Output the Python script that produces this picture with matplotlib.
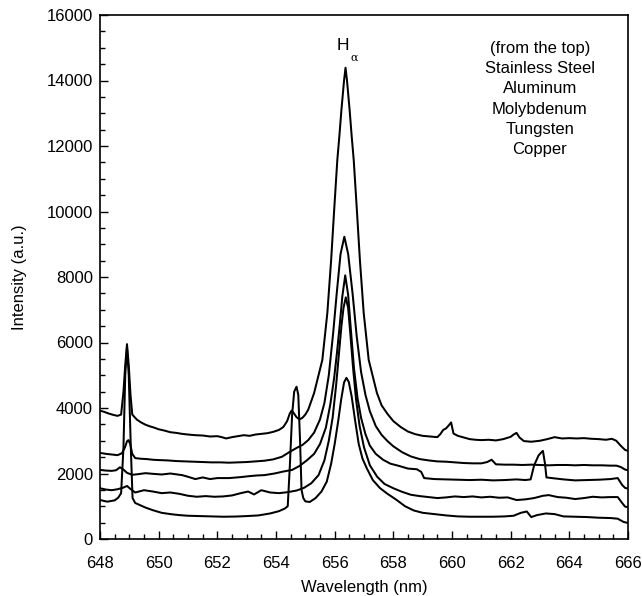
import matplotlib
matplotlib.use("Agg")
import matplotlib.pyplot as plt
from matplotlib.ticker import MultipleLocator

plt.rcParams['font.family'] = ['Liberation Sans', 'DejaVu Sans']

# ---------------- data ----------------
x_ss = [648.00, 648.15, 648.30, 648.45, 648.60, 648.72, 648.80, 648.86, 648.92, 648.98,
        649.04, 649.10, 649.25, 649.40, 649.55, 649.70, 649.85, 650.00, 650.20, 650.40,
        650.60, 650.80, 651.00, 651.25, 651.50, 651.75, 652.00, 652.15, 652.30, 652.50,
        652.70, 652.90, 653.10, 653.30, 653.50, 653.70, 653.90, 654.10, 654.25, 654.38,
        654.47, 654.53, 654.60, 654.70, 654.80, 654.90, 655.00, 655.10, 655.30, 655.58,
        655.75, 655.88, 655.98, 656.09, 656.16, 656.23, 656.32, 656.37, 656.42, 656.51,
        656.58, 656.65, 656.76, 656.86, 656.99, 657.16, 657.44, 657.60, 657.80,
        658.00, 658.25, 658.50, 658.75, 659.00, 659.25, 659.50, 659.60, 659.70, 659.80,
        659.90, 659.97, 660.05, 660.20, 660.40, 660.60, 660.80, 661.00, 661.25, 661.50,
        661.75, 662.00, 662.10, 662.20, 662.30, 662.45, 662.70, 663.00, 663.25, 663.50,
        663.75, 664.00, 664.25, 664.50, 664.75, 665.00, 665.25, 665.45, 665.60, 665.75,
        665.90, 666.00]
y_ss = [3920, 3880, 3830, 3790, 3760, 3800, 4500, 5300, 5950, 5300,
        4400, 3800, 3650, 3560, 3490, 3440, 3400, 3350, 3310, 3260,
        3240, 3210, 3190, 3170, 3160, 3130, 3140, 3110, 3070, 3110,
        3140, 3170, 3150, 3190, 3210, 3230, 3270, 3330, 3420, 3600,
        3830, 3920, 3850, 3720, 3650, 3700, 3800, 3950, 4460, 5470,
        6900, 8520, 10000, 11570, 12300, 13100, 14000, 14390, 14000, 13100,
        12300, 11570, 10000, 8520, 6900, 5470, 4460, 4080, 3820,
        3600, 3420, 3280, 3200, 3150, 3130, 3110, 3200, 3330, 3380,
        3480, 3560, 3220, 3150, 3100, 3050, 3030, 3020, 3030, 3010,
        3050, 3120, 3190, 3240, 3100, 2990, 2970, 3000, 3050, 3110,
        3070, 3080, 3070, 3080, 3060, 3050, 3030, 3060, 3000, 2850,
        2720, 2690]

x_al = [648.00, 648.20, 648.40, 648.60, 648.75, 648.85, 648.92, 648.97, 649.03, 649.10,
        649.20, 649.40, 649.60, 649.80, 650.00, 650.30, 650.60, 650.90, 651.20, 651.50,
        651.80, 652.10, 652.40, 652.70, 653.00, 653.30, 653.60, 653.90, 654.20, 654.45,
        654.70, 654.90, 655.10, 655.30, 655.50, 655.65, 655.80, 655.95, 656.07, 656.20,
        656.33, 656.46, 656.61, 656.75, 656.90, 657.05, 657.20, 657.40, 657.60, 657.80,
        658.00, 658.30, 658.60, 658.90, 659.20, 659.50, 659.80,
        660.10, 660.40, 660.70, 661.00, 661.20, 661.35, 661.50, 661.80, 662.10, 662.40,
        662.70, 663.00, 663.30, 663.60, 663.90, 664.20, 664.50, 664.80, 665.10, 665.40,
        665.60, 665.75, 665.90, 666.00]
y_al = [2630, 2600, 2580, 2560, 2620, 2800, 2980, 3020, 2900, 2600,
        2470, 2450, 2440, 2420, 2410, 2400, 2380, 2370, 2360, 2350,
        2340, 2340, 2330, 2340, 2350, 2370, 2390, 2430, 2510, 2650,
        2780, 2870, 3020, 3250, 3650, 4150, 5000, 6300, 7500, 8700,
        9230, 8700, 7500, 6200, 5100, 4400, 3900, 3450, 3180, 2990,
        2830, 2650, 2520, 2440, 2400, 2370, 2360,
        2340, 2320, 2310, 2310, 2350, 2420, 2280, 2270, 2270, 2260,
        2270, 2260, 2250, 2260, 2260, 2250, 2260, 2250, 2250, 2240,
        2240, 2200, 2120, 2100]

x_mo = [648.00, 648.20, 648.40, 648.55, 648.68, 648.80, 648.92, 649.10, 649.30, 649.55,
        649.80, 650.10, 650.40, 650.80, 651.00, 651.25, 651.50, 651.75, 652.00, 652.40,
        652.80, 653.10, 653.35, 653.60, 653.95, 654.25, 654.55, 654.80, 655.05, 655.30,
        655.50, 655.70, 655.85, 655.98, 656.08, 656.18, 656.26, 656.36, 656.46, 656.56,
        656.66, 656.78, 656.90, 657.05, 657.20, 657.40, 657.65, 657.90, 658.20, 658.50,
        658.80, 658.95, 659.05, 659.40, 659.80, 660.20, 660.60, 661.00, 661.40, 661.80,
        662.20, 662.50, 662.68, 662.80, 662.95, 663.05, 663.10, 663.17, 663.22, 663.50,
        663.80, 664.20, 664.60, 665.00, 665.40, 665.65, 665.80, 665.90, 666.00]
y_mo = [2110, 2090, 2080, 2100, 2190, 2120, 2020, 1960, 1980, 2010,
        1990, 1970, 2000, 1950, 1900, 1830, 1880, 1830, 1860, 1860,
        1890, 1920, 1940, 1950, 2000, 2060, 2110, 2230, 2400, 2600,
        2900, 3400, 4100, 4900, 5700, 6600, 7400, 8050, 7450, 6300,
        5200, 4300, 3700, 3200, 2850, 2600, 2420, 2300, 2230, 2150,
        2130, 2050, 1860, 1830, 1820, 1810, 1800, 1810, 1790, 1800,
        1820, 1800, 1820, 2250, 2550, 2650, 2690, 2300, 1880, 1850,
        1820, 1790, 1800, 1810, 1830, 1860, 1650, 1560, 1540]

x_w = [648.00, 648.20, 648.40, 648.60, 648.80, 648.92, 649.05, 649.20, 649.50, 649.80,
       650.10, 650.40, 650.70, 651.00, 651.30, 651.60, 651.90, 652.20, 652.50, 652.80,
       653.05, 653.25, 653.50, 653.80, 654.10, 654.40, 654.70, 654.95, 655.20, 655.45,
       655.65, 655.80, 655.93, 656.05, 656.15, 656.23, 656.30, 656.38, 656.46, 656.54,
       656.63, 656.73, 656.85, 657.00, 657.20, 657.45, 657.70, 658.00, 658.30, 658.60,
       658.90, 659.20, 659.50, 659.80, 660.10, 660.40, 660.70, 661.00, 661.30, 661.60,
       661.90, 662.20, 662.50, 662.80, 663.10, 663.30, 663.60, 663.90, 664.20, 664.50,
       664.80, 665.10, 665.40, 665.65, 665.80, 665.90, 666.00]
y_w = [1550, 1510, 1490, 1520, 1570, 1620, 1520, 1420, 1490, 1450,
       1400, 1420, 1380, 1320, 1290, 1310, 1290, 1300, 1330, 1400,
       1450, 1360, 1490, 1420, 1400, 1430, 1480, 1560, 1700, 1950,
       2400, 3000, 3700, 4700, 5700, 6500, 7050, 7380, 7050, 6200,
       5200, 4250, 3450, 2800, 2250, 1900, 1680, 1550, 1440, 1350,
       1310, 1280, 1250, 1270, 1300, 1280, 1300, 1270, 1290, 1260,
       1270, 1190, 1210, 1250, 1320, 1340, 1280, 1260, 1220, 1250,
       1290, 1270, 1280, 1280, 1100, 990, 970]

x_cu = [648.00, 648.25, 648.50, 648.62, 648.72, 648.80, 648.86, 648.92, 648.98, 649.05,
        649.11, 649.20, 649.35, 649.55, 649.80, 650.10, 650.40, 650.70, 651.00, 651.40,
        651.80, 652.20, 652.60, 653.00, 653.40, 653.80, 654.10, 654.30, 654.40, 654.47,
        654.55, 654.62, 654.70, 654.76, 654.82, 654.87, 654.93, 655.00, 655.15, 655.35,
        655.55, 655.73, 655.88, 656.00, 656.12, 656.22, 656.32, 656.40, 656.48, 656.58,
        656.70, 656.82, 656.95, 657.10, 657.30, 657.55, 657.80, 658.10, 658.40, 658.70,
        659.00, 659.40, 659.80, 660.20, 660.60, 661.00, 661.40, 661.80, 662.10, 662.35,
        662.55, 662.70, 662.90, 663.20, 663.50, 663.80, 664.20, 664.60, 665.00, 665.40,
        665.65, 665.85, 666.00]
y_cu = [1190, 1140, 1180, 1260, 1400, 2800, 5000, 5850, 5000, 2800,
        1250, 1100, 1040, 960, 880, 800, 760, 730, 710, 700,
        690, 680, 685, 700, 720, 780, 850, 930, 1000, 2200,
        3800, 4500, 4650, 4400, 3000, 1500, 1250, 1150, 1130, 1250,
        1450, 1750, 2300, 2900, 3600, 4250, 4780, 4920, 4800, 4350,
        3600, 2900, 2450, 2150, 1800, 1550, 1380, 1200, 1000, 870,
        800, 760, 720, 690, 680, 680, 680, 690, 710, 800,
        840, 670, 730, 780, 760, 690, 680, 670, 650, 640,
        620, 520, 490]

legend_lines = ["(from the top)", "Stainless Steel", "Aluminum", "Molybdenum",
                "Tungsten", "Copper"]

# ---------------- figure ----------------
fig = plt.figure(figsize=(6.42, 5.96), dpi=100)
ax = fig.add_axes([100 / 642, 57 / 596, 528 / 642, 524 / 596])

for xs, ys in [(x_ss, y_ss), (x_al, y_al), (x_mo, y_mo), (x_w, y_w), (x_cu, y_cu)]:
    ax.plot(xs, ys, color='black', lw=1.45, solid_joinstyle='round')

ax.set_xlim(648, 666)
ax.set_ylim(0, 16000)
ax.xaxis.set_major_locator(MultipleLocator(2))
ax.xaxis.set_minor_locator(MultipleLocator(0.5))
ax.yaxis.set_major_locator(MultipleLocator(2000))
ax.yaxis.set_minor_locator(MultipleLocator(500))
ax.tick_params(which='both', direction='in', top=False, right=False,
               labelsize=12, width=1.0, colors='black')
ax.tick_params(which='major', length=6)
ax.tick_params(which='minor', length=3.5)
ax.tick_params(axis='x', which='major', pad=12)
ax.tick_params(axis='y', which='major', pad=5)
for s in ax.spines.values():
    s.set_linewidth(1.2)

ax.set_xlabel("Wavelength (nm)", fontsize=12, labelpad=7)
ax.set_ylabel("Intensity (a.u.)", fontsize=12, labelpad=14)

# H-alpha label
ax.text(656.29, 15080, "H", fontsize=12.5, ha='center', va='center')
ax.text(656.66, 14700, "\u03b1", fontsize=8, ha='center', va='center',
        family=['DejaVu Serif'])

# legend text block
for i, t in enumerate(legend_lines):
    ax.text(0.833, 0.937 - i * 0.0389, t, transform=ax.transAxes,
            fontsize=12, ha='center', va='center')

fig.savefig("out.png", dpi=100)
